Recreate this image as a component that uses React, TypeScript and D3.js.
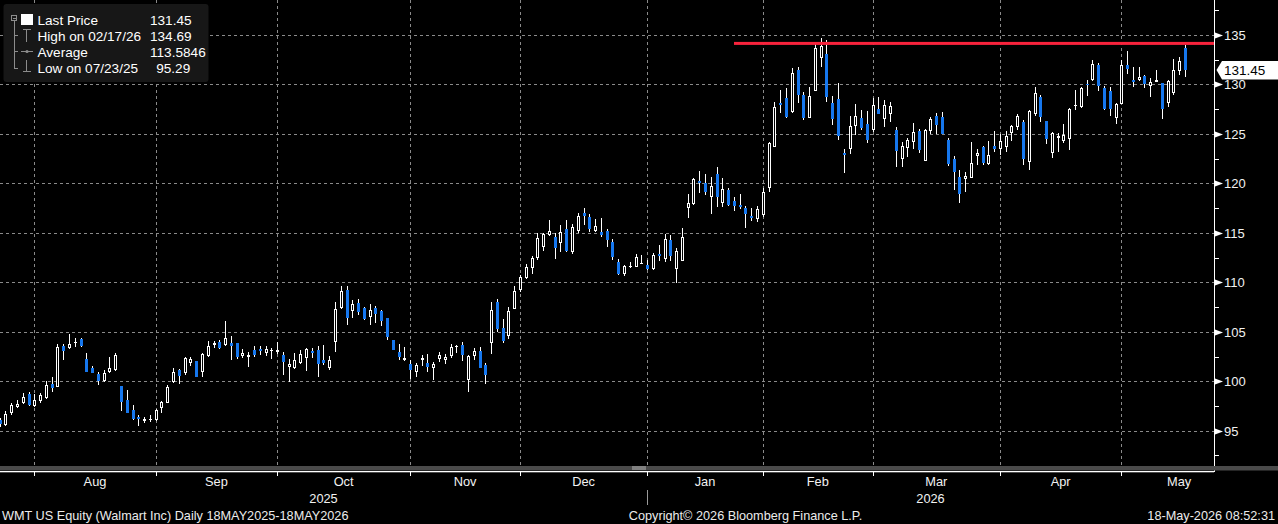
import React, { useEffect } from "react";
import * as d3 from "d3";

const W = 1278;
const H = 524;

// daily candles, 24 Jul 2025 .. 18 May 2026 (one entry per trading day)
const OPEN = [
  96.1, 95.58, 96.82, 97.37, 97.83, 98.71, 97.5, 98.04, 98.28, 99.72,
  99.46, 103.56, 103.4, 103.84, 104.27, 102.22, 101.31, 100.73, 100.06, 100.91,
  101.14, 99.52, 98.1, 97.09, 96.39, 95.98, 96.08, 96.08, 97.27, 97.83,
  99.9, 101.14, 100.8, 101.82, 102.05, 100.97, 102.55, 103.67, 103.97, 103.67,
  103.84, 103.9, 102.55, 102.48, 103.16, 103.3, 102.89, 103.06, 102.93, 102.65,
  101.47, 101.37, 101.88, 102.38, 103.06, 103.16, 102.15, 101.37, 104.0, 107.37,
  109.22, 107.13, 107.88, 107.44, 106.52, 107.44, 107.1, 106.36, 104.17, 102.93,
  102.15, 101.74, 100.9, 102.15, 101.84, 101.37, 102.22, 102.15, 102.55, 103.47,
  103.67, 100.13, 102.58, 103.06, 101.64, 103.9, 108.04, 105.35, 104.6, 107.27,
  109.22, 110.47, 111.48, 112.49, 113.6, 114.76, 114.55, 113.94, 115.36, 113.1,
  115.2, 117.0, 116.57, 115.22, 115.09, 115.19, 114.11, 112.08, 110.84, 111.62,
  111.58, 111.92, 111.72, 111.38, 112.9, 112.39, 114.28, 111.32, 112.19, 117.48,
  117.89, 120.24, 120.01, 118.66, 120.95, 118.05, 119.33, 118.19, 117.82, 117.55,
  116.73, 116.4, 116.8, 119.5, 123.65, 128.13, 128.6, 127.25, 131.46, 128.94,
  126.64, 129.37, 132.64, 133.08, 128.13, 128.53, 123.07, 123.45, 125.8, 126.64,
  126.0, 125.4, 127.52, 126.48, 127.01, 125.4, 122.47, 123.61, 124.21, 125.33,
  122.3, 125.33, 126.81, 126.68, 124.39, 122.47, 120.68, 120.48, 120.58, 122.77,
  123.65, 121.96, 123.78, 123.45, 123.71, 125.12, 125.67, 126.24, 122.19, 127.01,
  128.77, 126.31, 123.1, 124.62, 124.32, 124.49, 127.82, 127.75, 130.05, 130.45,
  131.97, 129.67, 129.34, 126.64, 128.0, 131.97, 130.45, 130.45, 130.86, 129.84,
  130.28, 130.12, 128.1, 129.17, 131.36, 133.66,
];
const HIGH = [
  96.3, 97.02, 97.77, 98.1, 98.78, 98.95, 98.7, 98.78, 100.03, 100.47,
  103.77, 103.77, 104.78, 104.34, 104.34, 102.83, 101.54, 100.97, 101.14, 102.5,
  102.83, 99.55, 99.12, 97.6, 96.59, 96.36, 96.59, 97.15, 98.0, 99.63,
  101.37, 101.2, 102.48, 102.5, 102.05, 102.88, 104.1, 104.1, 104.2, 106.1,
  104.6, 103.9, 103.23, 103.0, 103.56, 103.56, 103.56, 103.36, 103.94, 102.93,
  102.25, 102.83, 103.16, 103.4, 103.4, 103.56, 103.66, 102.55, 107.98, 109.63,
  109.63, 108.2, 108.3, 107.5, 107.81, 107.6, 107.2, 106.36, 104.17, 103.77,
  103.5, 102.15, 101.81, 102.65, 102.75, 101.91, 102.99, 102.75, 103.77, 103.67,
  104.0, 102.65, 103.33, 103.5, 101.81, 108.04, 108.3, 106.28, 107.54, 109.63,
  110.74, 111.81, 112.66, 115.02, 115.02, 116.29, 115.02, 115.8, 116.29, 115.9,
  117.04, 117.48, 116.9, 116.37, 116.47, 115.36, 114.35, 112.32, 111.74, 112.08,
  112.86, 112.76, 112.25, 112.93, 113.77, 114.88, 114.78, 113.44, 115.46, 118.93,
  120.51, 121.25, 120.98, 120.68, 121.69, 120.51, 119.5, 118.66, 118.93, 117.75,
  117.55, 117.75, 119.5, 124.22, 128.26, 129.44, 129.61, 131.63, 131.8, 129.27,
  129.71, 134.16, 134.69, 134.5, 128.86, 130.18, 123.47, 126.81, 128.0, 127.42,
  127.32, 128.67, 128.74, 128.4, 128.23, 125.74, 124.22, 124.56, 126.14, 125.5,
  125.46, 126.68, 127.08, 127.18, 124.56, 122.77, 121.35, 121.18, 124.22, 123.47,
  123.78, 124.26, 125.33, 124.99, 125.33, 125.9, 127.01, 126.41, 127.42, 129.78,
  128.94, 126.31, 125.23, 125.12, 126.0, 127.59, 129.44, 129.78, 130.45, 132.47,
  132.2, 129.85, 129.78, 128.16, 132.47, 133.38, 131.8, 131.8, 130.96, 130.62,
  131.46, 130.12, 130.45, 132.55, 132.75, 133.99,
];
const LOW = [
  95.4, 95.48, 96.59, 97.27, 97.7, 97.5, 97.43, 97.83, 98.18, 98.95,
  99.46, 102.15, 103.23, 103.5, 103.5, 100.91, 100.8, 99.63, 99.96, 100.8,
  101.04, 97.02, 96.76, 96.08, 95.5, 95.75, 95.85, 95.98, 96.76, 97.77,
  99.8, 99.7, 100.63, 101.5, 100.4, 100.47, 102.48, 103.4, 103.23, 103.6,
  102.15, 102.2, 102.32, 101.48, 102.48, 102.65, 102.6, 102.25, 102.75, 100.63,
  99.96, 101.2, 101.74, 101.04, 102.32, 100.47, 101.64, 101.14, 102.99, 107.3,
  105.69, 106.36, 106.7, 106.16, 105.69, 105.93, 105.6, 104.17, 103.16, 102.15,
  102.05, 100.23, 100.47, 101.57, 100.97, 100.13, 101.91, 101.71, 102.38, 102.83,
  102.05, 98.95, 102.15, 101.37, 99.72, 102.75, 104.94, 103.9, 104.27, 107.27,
  109.05, 110.34, 110.84, 112.26, 113.17, 114.71, 112.35, 113.1, 113.04, 112.86,
  115.02, 115.76, 115.05, 115.12, 114.59, 113.6, 112.26, 110.74, 110.64, 111.41,
  111.51, 111.88, 111.2, 111.2, 112.2, 112.09, 112.19, 109.9, 112.19, 116.53,
  117.82, 119.06, 118.79, 116.94, 117.65, 117.65, 117.75, 117.24, 117.41, 115.52,
  116.2, 116.09, 116.63, 119.16, 123.65, 127.15, 126.64, 127.15, 128.16, 126.41,
  126.64, 129.37, 131.8, 128.26, 125.93, 124.39, 121.08, 122.97, 124.89, 125.36,
  124.06, 125.23, 127.01, 125.74, 126.24, 121.63, 121.63, 122.64, 123.45, 123.1,
  122.3, 124.99, 124.99, 124.99, 121.76, 119.33, 117.99, 119.16, 120.58, 121.85,
  121.85, 121.85, 123.21, 122.87, 123.14, 124.26, 125.4, 121.86, 121.35, 126.81,
  126.24, 123.99, 122.6, 123.2, 124.06, 123.38, 127.38, 127.59, 128.83, 130.38,
  129.37, 127.42, 126.85, 125.98, 128.0, 131.03, 129.78, 130.38, 129.61, 128.76,
  130.28, 126.48, 127.76, 128.94, 130.96, 130.78,
];
const CLOSE = [
  95.7, 96.66, 97.57, 97.7, 98.38, 97.6, 98.1, 98.58, 99.63, 99.35,
  103.43, 103.06, 103.77, 103.97, 103.56, 100.97, 100.87, 100.06, 100.8, 101.31,
  102.68, 97.93, 96.82, 96.15, 96.15, 96.19, 96.19, 97.09, 97.87, 99.45,
  100.97, 100.53, 102.32, 102.22, 100.47, 102.75, 103.56, 103.84, 103.33, 104.34,
  103.56, 102.4, 102.83, 102.65, 102.65, 103.09, 103.26, 103.2, 103.16, 101.98,
  101.74, 102.15, 102.75, 103.26, 102.89, 101.74, 101.82, 102.15, 107.3, 109.12,
  106.42, 107.81, 107.03, 106.26, 107.2, 106.8, 106.12, 104.5, 103.16, 102.48,
  102.32, 101.14, 101.64, 102.38, 101.47, 101.74, 102.65, 102.48, 103.5, 103.6,
  102.65, 102.55, 103.06, 101.37, 100.63, 107.2, 105.28, 104.1, 107.1, 109.16,
  110.57, 111.51, 112.49, 114.45, 114.86, 115.16, 113.5, 115.06, 113.17, 115.56,
  116.7, 116.73, 115.39, 115.69, 114.78, 114.28, 112.59, 110.84, 111.64, 111.68,
  112.53, 111.98, 111.38, 112.77, 112.67, 114.38, 112.7, 113.17, 114.55, 117.98,
  120.41, 120.01, 119.16, 119.74, 118.66, 119.4, 117.82, 117.75, 117.61, 116.91,
  116.53, 117.41, 119.1, 124.05, 127.69, 127.92, 126.74, 131.13, 128.94, 126.58,
  128.83, 133.65, 133.89, 128.77, 126.51, 124.79, 122.87, 125.8, 126.81, 125.63,
  124.39, 127.92, 127.01, 127.92, 127.82, 123.3, 123.78, 124.39, 125.23, 123.38,
  125.4, 126.48, 125.9, 124.99, 121.96, 121.12, 118.93, 120.75, 122.03, 123.04,
  122.03, 122.87, 123.45, 124.29, 124.79, 125.8, 126.81, 122.47, 127.32, 129.17,
  126.74, 124.49, 125.12, 124.79, 124.89, 127.52, 127.92, 129.61, 129.92, 132.07,
  129.88, 127.52, 127.52, 128.03, 131.97, 131.53, 130.28, 130.79, 130.02, 130.28,
  130.45, 127.52, 130.35, 131.46, 132.4, 131.45,
];

// calendar: trading days in the partial July block, then full months
const JUL_DAYS = 6;
const MONTHS = ["Aug", "Sep", "Oct", "Nov", "Dec", "Jan", "Feb", "Mar", "Apr", "May"];
const MONTH_DAYS = [21, 21, 23, 19, 22, 20, 19, 22, 21, 20];
const YEARS = ["2025", "2026"];
const NEW_YEAR_MONTH = 5; // index of Jan in MONTHS

// horizontal annotation (drawn by hand on the chart)
const LINE_LEVEL = 134.15;
const LINE_FROM = 127;

const LEGEND_LABELS = ["Last Price", "High on 02/17/26", "Average", "Low on 07/23/25"];
const LEGEND_VALUES = ["131.45", "134.69", "113.5846", "95.29"];
const LAST_PRICE = 131.45;

const FOOTER_LEFT = "WMT US Equity (Walmart Inc) Daily 18MAY2025-18MAY2026";
const FOOTER_MID = "Copyright\u00A9 2026 Bloomberg Finance L.P.";
const FOOTER_RIGHT = "18-May-2026 08:52:31";

const FONT = "'Liberation Sans', Arial, sans-serif";
const BLUE = "#1677ee";
const GRID = "#8a8a8a";

const PLOT_RIGHT = 1214;
const PLOT_BOTTOM = 466;

export default function App() {
  useEffect(() => {
    document.body.style.margin = "0";
    document.body.style.background = "#000";
  }, []);

  const n = OPEN.length;
  const x = d3.scaleLinear().domain([0, n - 1]).range([-0.4, 1184.9]);
  const y = d3.scaleLinear().domain([95, 135]).range([430.7, 35]);

  const yMajor = y.ticks(10).filter((v) => y(v) > 2 && y(v) < PLOT_BOTTOM - 4);
  const yMinor = d3.range(92.5, 140, 5).filter((v) => y(v) > 2 && y(v) < PLOT_BOTTOM - 4);

  const starts: number[] = [];
  let acc = JUL_DAYS;
  MONTH_DAYS.forEach((d) => {
    starts.push(acc);
    acc += d;
  });
  const px = (i: number) => Math.round(x(i));
  const yearX = px(starts[NEW_YEAR_MONTH]);

  return (
    <div style={{ position: "fixed", left: 0, top: 0, width: W, height: H, background: "#000" }}>
      <svg width={W} height={H} style={{ display: "block" }} fontFamily={FONT}>
        <rect width={W} height={H} fill="#000" />
        <defs>
          <clipPath id="plot">
            <rect x={0} y={0} width={PLOT_RIGHT} height={PLOT_BOTTOM} />
          </clipPath>
        </defs>

        {/* grid */}
        <g stroke={GRID} strokeWidth={1} strokeDasharray="3,3" shapeRendering="crispEdges">
          {yMajor.map((v) => (
            <line key={"h" + v} x1={0} x2={PLOT_RIGHT} y1={Math.round(y(v)) + 0.5} y2={Math.round(y(v)) + 0.5} />
          ))}
          {starts.map((s) => (
            <line key={"v" + s} x1={px(s) + 0.5} x2={px(s) + 0.5} y1={0} y2={PLOT_BOTTOM} />
          ))}
        </g>

        {/* candles */}
        <g clipPath="url(#plot)" shapeRendering="crispEdges">
          {OPEN.map((o, i) => {
            const c = CLOSE[i];
            const up = c >= o;
            const cx = px(i);
            const yt = Math.round(y(Math.max(o, c)));
            const yb = Math.round(y(Math.min(o, c)));
            const yh = Math.round(y(HIGH[i]));
            const yl = Math.round(y(LOW[i]));
            const h = Math.max(yb - yt, 1);
            return (
              <g key={i}>
                <rect x={cx} y={yh} width={1} height={Math.max(yl - yh, 1)} fill="#fff" />
                {up ? (
                  <>
                    <rect x={cx - 1} y={yt} width={3} height={h} fill="#fff" />
                    {h > 2 && <rect x={cx} y={yt + 1} width={1} height={h - 2} fill="#000" />}
                  </>
                ) : (
                  <rect x={cx - 1} y={yt} width={3} height={h} fill={BLUE} />
                )}
              </g>
            );
          })}
        </g>

        {/* red level line */}
        <rect
          x={px(LINE_FROM)}
          y={y(LINE_LEVEL) - 1.5}
          width={PLOT_RIGHT - px(LINE_FROM)}
          height={3}
          fill="#f8233c"
        />

        {/* legend */}
        <rect x={3.5} y={4} width={205} height={78} rx={3} fill="#171717" />
        <g stroke="#8c8c8c" strokeWidth={1} fill="none" shapeRendering="crispEdges">
          <rect x={11.5} y={15.5} width={5} height={5} />
          <line x1={12.5} x2={15.5} y1={18.5} y2={18.5} />
          <line x1={14.5} x2={14.5} y1={21} y2={69} />
          <line x1={14.5} x2={18} y1={35.5} y2={35.5} />
          <line x1={14.5} x2={18} y1={51.5} y2={51.5} />
          <line x1={14.5} x2={18} y1={68.5} y2={68.5} />
          <line x1={23} x2={31} y1={29.5} y2={29.5} />
          <line x1={26.5} x2={26.5} y1={29.5} y2={42} />
          <line x1={21} x2={33} y1={51.5} y2={51.5} />
          <line x1={26.5} x2={26.5} y1={60} y2={71} />
          <line x1={23} x2={31} y1={71.5} y2={71.5} />
        </g>
        <circle cx={27} cy={51.5} r={1.6} fill="#8c8c8c" />
        <rect x={21} y={14} width={12} height={11} fill="#fff" />
        {LEGEND_LABELS.map((t, i) => (
          <text key={t} x={37.5} y={24.5 + i * 16.1} fill="#fff" fontSize={13.6}>
            {t}
          </text>
        ))}
        {LEGEND_VALUES.map((t, i) => (
          <text
            key={t}
            x={t.length < 6 ? 156.2 : 150}
            y={24.5 + i * 16.1}
            fill="#fff"
            fontSize={13.6}
          >
            {t}
          </text>
        ))}

        {/* right axis */}
        <rect x={PLOT_RIGHT} y={0} width={1} height={472} fill="#fff" shapeRendering="crispEdges" />
        {yMinor.map((v) => (
          <rect key={"m" + v} x={PLOT_RIGHT + 1} y={Math.round(y(v))} width={4} height={1} fill="#fff" shapeRendering="crispEdges" />
        ))}
        {yMajor.map((v) => {
          const yy = Math.round(y(v)) + 0.5;
          return (
            <g key={"t" + v}>
              <polygon points={`${PLOT_RIGHT + 1},${yy - 3} ${PLOT_RIGHT + 9},${yy} ${PLOT_RIGHT + 1},${yy + 3}`} fill="#fff" />
              <text x={1224} y={yy + 4.6} fill="#f2f2f2" fontSize={13}>
                {v}
              </text>
            </g>
          );
        })}

        {/* last price tag */}
        {(() => {
          const yy = y(LAST_PRICE);
          return (
            <g>
              <polygon
                points={`${PLOT_RIGHT + 2.5},${yy} ${PLOT_RIGHT + 8},${yy - 9} ${W},${yy - 9} ${W},${yy + 9.5} ${PLOT_RIGHT + 8},${yy + 9.5}`}
                fill="#fff"
              />
              <text x={1224} y={yy + 5} fill="#000" fontSize={13.5}>
                {LAST_PRICE.toFixed(2)}
              </text>
            </g>
          );
        })()}

        {/* bottom axis */}
        <rect x={0} y={466} width={W} height={4.5} fill="#4a4a4a" />
        <rect x={632} y={466.5} width={14} height={1} fill="#b5b5b5" />
        <rect x={632} y={468.5} width={14} height={1} fill="#b5b5b5" />
        <rect x={0} y={471} width={PLOT_RIGHT} height={1.3} fill="#fff" />
        {starts.map((s) => (
          <rect key={"bt" + s} x={px(s)} y={472} width={1} height={4} fill="#fff" />
        ))}
        {MONTHS.map((m, i) => (
          <text
            key={m}
            x={x(starts[i] + MONTH_DAYS[i] / 2)}
            y={486}
            fill="#f2f2f2"
            fontSize={12.8}
            textAnchor="middle"
          >
            {m}
          </text>
        ))}
        <rect x={yearX} y={490} width={1} height={15} fill="#9a9a9a" />
        <text x={yearX / 2} y={503} fill="#f2f2f2" fontSize={12.8} textAnchor="middle">
          {YEARS[0]}
        </text>
        <text x={(yearX + PLOT_RIGHT) / 2} y={503} fill="#f2f2f2" fontSize={12.8} textAnchor="middle">
          {YEARS[1]}
        </text>

        {/* footer */}
        <text x={2} y={519.5} fill="#ececec" fontSize={12.7}>
          {FOOTER_LEFT}
        </text>
        <text x={745.5} y={519.5} fill="#ececec" fontSize={12.7} textAnchor="middle">
          {FOOTER_MID}
        </text>
        <text x={1275} y={519.5} fill="#ececec" fontSize={12.7} textAnchor="end">
          {FOOTER_RIGHT}
        </text>
      </svg>
    </div>
  );
}
